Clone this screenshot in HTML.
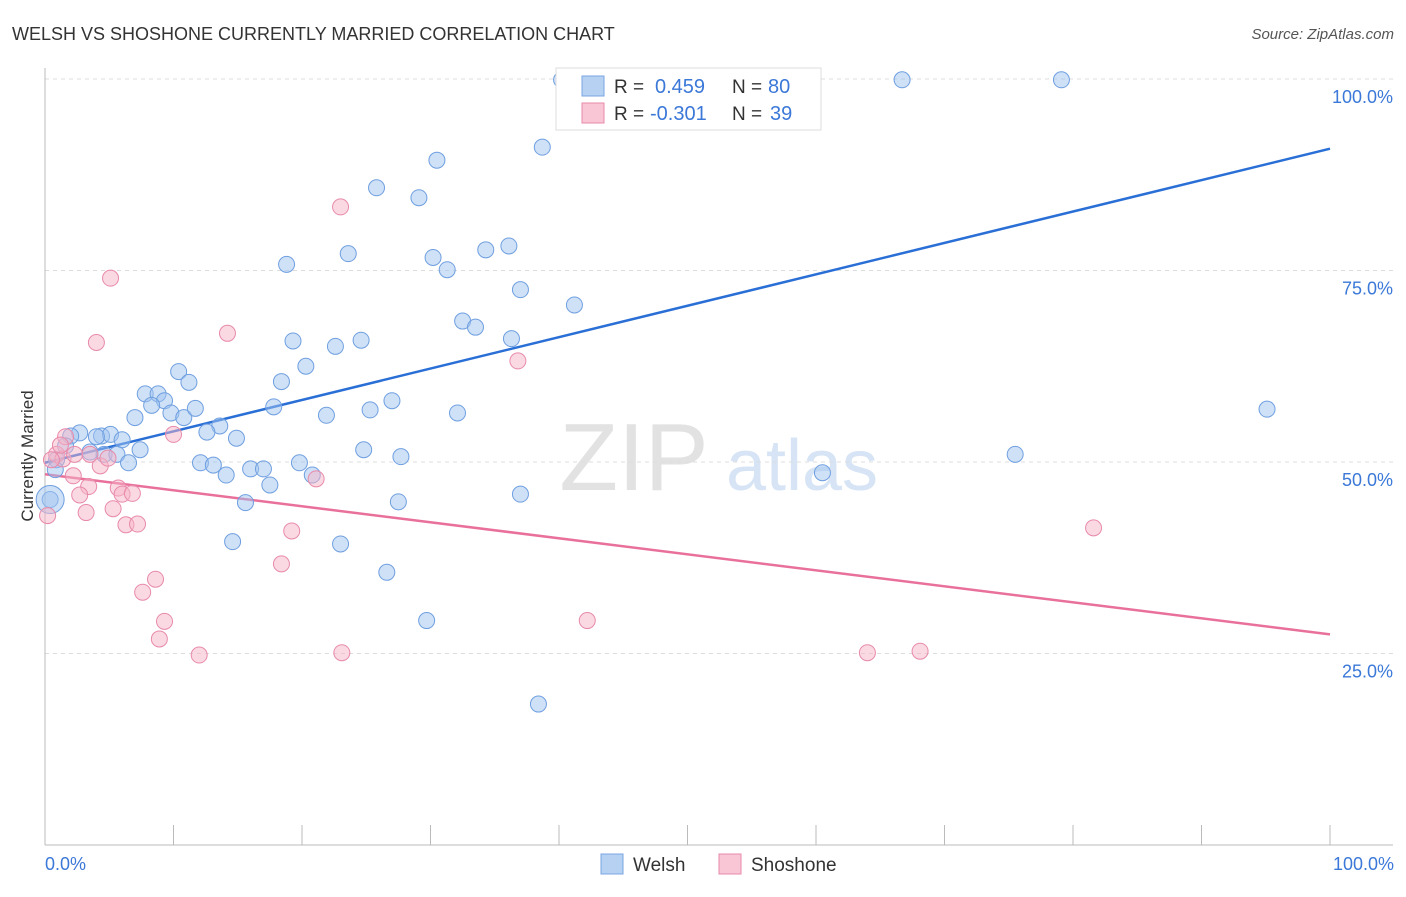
<!DOCTYPE html>
<html><head><meta charset="utf-8"><style>
body{margin:0;background:#fff;font-family:"Liberation Sans",sans-serif}
svg text{font-family:"Liberation Sans",sans-serif}
</style></head><body>
<svg id="chart" width="1406" height="892" viewBox="0 0 1406 892" xmlns="http://www.w3.org/2000/svg">
<text x="12" y="40" font-size="18" fill="#333">WELSH VS SHOSHONE CURRENTLY MARRIED CORRELATION CHART</text>
<text x="1394" y="39" font-size="15" fill="#555" text-anchor="end" font-style="italic">Source: ZipAtlas.com</text>
<g>
<text x="634" y="490" font-size="96" fill="#e2e2e2" font-family="Liberation Serif,serif" text-anchor="middle">ZIP</text>
<text x="802" y="490" font-size="72" fill="#d6e4f5" text-anchor="middle">atlas</text>
</g>
<g id="grid"></g>
<g id="axes"></g>
<g id="trend"></g>
<g id="points"></g>
<text transform="translate(33,456) rotate(-90)" font-size="17" fill="#333" text-anchor="middle">Currently Married</text>
<text x="45" y="870" font-size="18" fill="#3b78d8">0.0%</text>
<text x="1394" y="870" font-size="18" fill="#3b78d8" text-anchor="end">100.0%</text>
<g>
<rect x="556" y="68" width="265" height="62" fill="#fff" stroke="#ddd"/>
<rect x="582" y="76" width="22" height="20" fill="#b7d1f3" stroke="#7aa6e0"/>
<rect x="582" y="103" width="22" height="20" fill="#f8c6d5" stroke="#e88aaa"/>
<text x="614" y="93" font-size="19" fill="#333">R = </text><text x="655" y="93" font-size="20" fill="#3b78d8">0.459</text>
<text x="732" y="93" font-size="19" fill="#333">N = </text><text x="768" y="93" font-size="20" fill="#3b78d8">80</text>
<text x="614" y="120" font-size="19" fill="#333">R = </text><text x="650" y="120" font-size="20" fill="#3b78d8">-0.301</text>
<text x="732" y="120" font-size="19" fill="#333">N = </text><text x="770" y="120" font-size="20" fill="#3b78d8">39</text>
</g>
<g>
<rect x="601" y="854" width="22" height="20" fill="#b7d1f3" stroke="#7aa6e0"/>
<text x="633" y="871" font-size="19" fill="#333">Welsh</text>
<rect x="719" y="854" width="22" height="20" fill="#f8c6d5" stroke="#e88aaa"/>
<text x="751" y="871" font-size="19" fill="#333">Shoshone</text>
</g>
</svg>
<script>
const yTicks=[100,75,50,25];
const yTickLabels=["100.0%","75.0%","50.0%","25.0%"];
const xTicks=[10,20,30,40,50,60,70,80,90,100];
const welshX=[40.2,45.7,54.2,66.7,79.1,47.5,38.7,30.5,25.8,29.1,18.8,23.6,30.2,31.3,34.3,36.1,37.0,41.2,32.5,33.5,36.3,19.3,22.6,24.6,20.3,18.4,10.4,11.2,7.8,8.8,9.3,8.3,7.0,9.8,10.8,11.7,13.6,12.6,14.9,17.8,21.9,25.3,27.0,32.1,24.8,27.7,4.4,2.7,2.0,1.6,5.1,6.0,4.0,3.5,4.6,5.6,7.4,6.5,0.9,0.8,0.4,12.1,13.1,14.1,16.0,17.0,17.5,19.8,20.8,15.6,14.6,23.0,26.6,27.5,29.7,37.0,38.4,60.5,75.5,95.1];
const welshY=[99.9,99.9,99.9,99.9,99.9,94.4,91.1,89.4,85.8,84.5,75.8,77.2,76.7,75.1,77.7,78.2,72.5,70.5,68.4,67.6,66.1,65.8,65.1,65.9,62.5,60.5,61.8,60.4,58.9,58.9,58.0,57.4,55.8,56.4,55.8,57.0,54.7,53.9,53.1,57.2,56.1,56.8,58.0,56.4,51.6,50.7,53.4,53.8,53.4,52.1,53.6,52.9,53.3,51.3,51.0,51.0,51.6,49.9,50.3,49.0,45.1,49.9,49.6,48.3,49.1,49.1,47.0,49.9,48.3,44.7,39.6,39.3,35.6,44.8,29.3,45.8,18.4,48.6,51.0,56.9];
const shoX=[23.0,5.1,4.0,14.2,36.8,10.0,1.6,0.9,1.4,2.3,3.5,4.3,4.9,2.2,3.4,2.7,5.7,6.0,6.8,0.2,3.2,5.3,6.3,7.2,8.6,7.6,9.3,8.9,12.0,19.2,18.4,21.1,23.1,42.2,64.0,68.1,81.6,1.2,0.5];
const shoY=[83.3,74.0,65.6,66.8,63.2,53.6,53.3,51.0,50.4,51.0,51.0,49.5,50.5,48.2,46.8,45.7,46.6,45.8,45.9,43.0,43.4,43.9,41.8,41.9,34.7,33.0,29.2,26.9,24.8,41.0,36.7,47.8,25.1,29.3,25.1,25.3,41.4,52.2,50.3];
const welshTrend=[49.9,90.9];
const shoTrend=[48.4,27.5];
const NS="http://www.w3.org/2000/svg";
const X0=45,X1=1330,Y0=845,Y100=79;
const xs=v=>X0+(X1-X0)*v/100;
const ys=v=>Y0-(Y0-Y100)*v/100;
function mk(tag,attrs,parent){const e=document.createElementNS(NS,tag);for(const k in attrs)e.setAttribute(k,attrs[k]);parent.appendChild(e);return e;}
const grid=document.getElementById('grid');
yTicks.forEach((t,i)=>{
  const l=mk('line',{x1:45,x2:1393,y1:ys(t),y2:ys(t),stroke:'#ddd','stroke-dasharray':'4,4'},grid);
  
  
  const tx=mk('text',{x:1393,y:ys(t)+24,'font-size':18,fill:'#3b78d8','text-anchor':'end'},grid);
  tx.textContent=yTickLabels[i];
  
  
});
const axes=document.getElementById('axes');
const ya=mk('line',{x1:45,x2:45,y1:68,y2:845,stroke:'#bbb'},axes);


const xa=mk('line',{x1:45,x2:1393,y1:845,y2:845,stroke:'#bbb'},axes);


xTicks.forEach(t=>{
  const l=mk('line',{x1:xs(t),x2:xs(t),y1:825,y2:845,stroke:'#bbb'},axes);
  
  
});
const pts=document.getElementById('points');
welshX.forEach((x,i)=>{
  const c=mk('circle',{cx:xs(x),cy:ys(welshY[i]),r:8,fill:'rgba(160,195,240,0.5)',stroke:'#6f9fe0','stroke-width':1},pts);
  
  
});
const big=mk('circle',{cx:xs(0.4),cy:ys(45.1),r:14,fill:'rgba(160,195,240,0.5)',stroke:'#6f9fe0'},pts);


shoX.forEach((x,i)=>{
  const c=mk('circle',{cx:xs(x),cy:ys(shoY[i]),r:8,fill:'rgba(245,180,200,0.5)',stroke:'#e88aaa','stroke-width':1},pts);
  
  
});
const tr=document.getElementById('trend');
const tw=mk('line',{x1:xs(0),y1:ys(welshTrend[0]),x2:xs(100),y2:ys(welshTrend[1]),stroke:'#2a6fd6','stroke-width':2.5},tr);


const ts=mk('line',{x1:xs(0),y1:ys(shoTrend[0]),x2:xs(100),y2:ys(shoTrend[1]),stroke:'#e8709a','stroke-width':2.5},tr);


</script>
</body></html>
